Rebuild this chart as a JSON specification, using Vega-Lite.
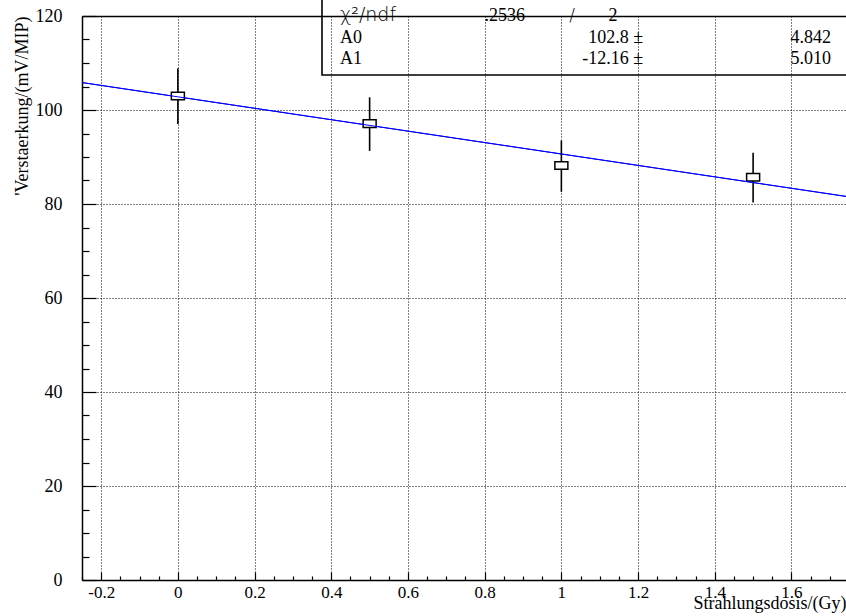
{
  "$schema": "https://vega.github.io/schema/vega-lite/v6.json",
  "autosize": {"type": "none"},
  "padding": {"left": 82, "top": 16, "right": 0, "bottom": 36},
  "width": 764,
  "height": 564,
  "background": "white",
  "view": {"stroke": null},
  "config": {
    "font": "Liberation Serif",
    "axis": {
      "labelFont": "Liberation Serif",
      "labelFontSize": 18,
      "labelColor": "black",
      "tickColor": "black",
      "domainColor": "black",
      "domainWidth": 1.5,
      "tickWidth": 1.2,
      "titleColor": "black",
      "titleFont": "Liberation Serif",
      "titleFontWeight": "normal",
      "gridColor": "black",
      "gridDash": [1, 2],
      "gridWidth": 1,
      "gridOpacity": 1
    },
    "text": {"font": "Liberation Serif"}
  },
  "datasets": {
    "points": [
      {"dose": 0.0, "gain": 103.0, "lo": 97.0, "hi": 108.9},
      {"dose": 0.5, "gain": 97.1, "lo": 91.3, "hi": 102.7},
      {"dose": 1.0, "gain": 88.2, "lo": 82.6, "hi": 93.5},
      {"dose": 1.5, "gain": 85.7, "lo": 80.3, "hi": 90.9}
    ],
    "fit": [
      {"x1": -0.25, "y1": 105.84, "x2": 1.75, "y2": 81.52}
    ],
    "stats": [
      {"row": "chi2", "label": "χ²/ndf", "value": ".2536", "sep": "/", "ndf": "2"},
      {"row": "A0", "label": "A0", "value": "102.8 ±", "error": "4.842"},
      {"row": "A1", "label": "A1", "value": "-12.16 ±", "error": "5.010"}
    ]
  },
  "layer": [
    {
      "data": {"name": "fit"},
      "mark": {"type": "rule", "color": "#0000ff", "strokeWidth": 1, "clip": true},
      "encoding": {
        "x": {
          "field": "x1", "type": "quantitative",
          "scale": {"domain": [-0.25, 1.7422], "nice": false, "zero": false},
          "axis": {
            "orient": "bottom",
            "values": [-0.2, 0, 0.2, 0.4, 0.6, 0.8, 1, 1.2, 1.4, 1.6],
            "labelExpr": "replace(format(datum.value, '~g'), '−', '-')",
            "labelFont": "Liberation Serif",
            "labelFontSize": 17,
            "tickSize": -8,
            "labelPadding": 12,
            "labelFlush": false,
            "labelOverlap": false,
            "grid": true,
            "title": "Strahlungsdosis/(Gy)",
            "titleAnchor": "end",
            "titleFont": "Liberation Serif",
            "titleFontSize": 18,
            "titlePadding": -6
          }
        },
        "x2": {"field": "x2"},
        "y": {
          "field": "y1", "type": "quantitative",
          "scale": {"domain": [0, 120], "nice": false, "zero": false},
          "axis": {
            "orient": "left",
            "values": [0, 20, 40, 60, 80, 100, 120],
            "labelFont": "Liberation Serif",
            "labelFontSize": 18,
            "tickSize": -14,
            "labelPadding": 34,
            "labelFlush": false,
            "labelOverlap": false,
            "grid": true,
            "title": "'Verstaerkung/(mV/MIP)",
            "titleAnchor": "end",
            "titleFont": "Liberation Serif",
            "titleFontSize": 18,
            "titlePadding": 4
          }
        },
        "y2": {"field": "y2"}
      }
    },
    {
      "data": {"name": "points"},
      "mark": {"type": "rule", "color": "black", "strokeWidth": 1.6},
      "encoding": {
        "x": {
          "field": "dose", "type": "quantitative",
          "axis": {
            "orient": "bottom",
            "values": [-0.25, -0.15, -0.1, -0.05, 0.05, 0.1, 0.15, 0.25, 0.3, 0.35, 0.45, 0.5, 0.55, 0.65, 0.7, 0.75, 0.85, 0.9, 0.95, 1.05, 1.1, 1.15, 1.25, 1.3, 1.35, 1.45, 1.5, 1.55, 1.65, 1.7],
            "tickSize": -4,
            "labels": false,
            "grid": false,
            "domain": false,
            "title": null
          }
        },
        "y": {
          "field": "lo", "type": "quantitative",
          "axis": {
            "orient": "left",
            "values": [5, 10, 15, 25, 30, 35, 45, 50, 55, 65, 70, 75, 85, 90, 95, 105, 110, 115],
            "tickSize": -7,
            "labels": false,
            "grid": false,
            "domain": false,
            "title": null
          }
        },
        "y2": {"field": "hi"}
      }
    },
    {
      "data": {"name": "points"},
      "mark": {
        "type": "point",
        "shape": "M-1,-0.58H1V0.58H-1Z",
        "size": 169,
        "filled": true,
        "fill": "white",
        "stroke": "black",
        "strokeWidth": 1.5,
        "opacity": 1
      },
      "encoding": {
        "x": {
          "field": "dose", "type": "quantitative",
          "axis": {
            "orient": "top",
            "ticks": false,
            "labels": false,
            "grid": false,
            "domain": true,
            "title": null
          }
        },
        "y": {"field": "gain", "type": "quantitative", "axis": null}
      }
    },
    {
      "data": {"name": "fit"},
      "mark": {"type": "rule", "color": "#0000ff", "strokeWidth": 1, "clip": true},
      "encoding": {
        "x": {"field": "x1", "type": "quantitative", "axis": null},
        "x2": {"field": "x2"},
        "y": {"field": "y1", "type": "quantitative", "axis": null},
        "y2": {"field": "y2"}
      }
    },
    {
      "data": {"values": [{"box": "stats"}]},
      "mark": {"type": "rect", "fill": null, "filled": false, "stroke": "black", "strokeWidth": 1.6},
      "encoding": {
        "x": {"datum": 0.3758, "type": "quantitative", "axis": null},
        "x2": {"datum": 1.8},
        "y": {"datum": 107.45, "type": "quantitative", "axis": null},
        "y2": {"datum": 125}
      }
    },
    {
      "data": {"name": "stats"},
      "transform": [{"filter": "datum.row == 'chi2'"}],
      "mark": {"type": "text", "align": "left", "baseline": "alphabetic", "font": "DejaVu Sans", "fontWeight": 300, "fontSize": 19, "color": "black"},
      "encoding": {
        "x": {"datum": 0.4228, "type": "quantitative", "axis": null},
        "y": {"datum": 118.9, "type": "quantitative", "axis": null},
        "text": {"field": "label"}
      }
    },
    {
      "data": {"name": "stats"},
      "transform": [{"filter": "datum.row == 'chi2'"}],
      "mark": {"type": "text", "align": "left", "baseline": "alphabetic", "font": "Liberation Serif", "fontSize": 18, "color": "black"},
      "encoding": {
        "x": {"datum": 0.7993, "type": "quantitative", "axis": null},
        "y": {"datum": 118.9, "type": "quantitative", "axis": null},
        "text": {"field": "value"}
      }
    },
    {
      "data": {"name": "stats"},
      "transform": [{"filter": "datum.row == 'chi2'"}],
      "mark": {"type": "text", "align": "center", "baseline": "alphabetic", "font": "DejaVu Sans", "fontWeight": 300, "fontSize": 17, "color": "black"},
      "encoding": {
        "x": {"datum": 1.0277, "type": "quantitative", "axis": null},
        "y": {"datum": 118.9, "type": "quantitative", "axis": null},
        "text": {"field": "sep"}
      }
    },
    {
      "data": {"name": "stats"},
      "transform": [{"filter": "datum.row == 'chi2'"}],
      "mark": {"type": "text", "align": "center", "baseline": "alphabetic", "font": "Liberation Serif", "fontSize": 18, "color": "black"},
      "encoding": {
        "x": {"datum": 1.1346, "type": "quantitative", "axis": null},
        "y": {"datum": 118.9, "type": "quantitative", "axis": null},
        "text": {"field": "ndf"}
      }
    },
    {
      "data": {"name": "stats"},
      "transform": [{"filter": "datum.row == 'A0'"}],
      "mark": {"type": "text", "align": "left", "baseline": "alphabetic", "font": "Liberation Serif", "fontSize": 18, "color": "black"},
      "encoding": {
        "x": {"datum": 0.4228, "type": "quantitative", "axis": null},
        "y": {"datum": 114.2, "type": "quantitative", "axis": null},
        "text": {"field": "label"}
      }
    },
    {
      "data": {"name": "stats"},
      "transform": [{"filter": "datum.row == 'A0'"}],
      "mark": {"type": "text", "align": "right", "baseline": "alphabetic", "font": "Liberation Serif", "fontSize": 18, "color": "black"},
      "encoding": {
        "x": {"datum": 1.2129, "type": "quantitative", "axis": null},
        "y": {"datum": 114.2, "type": "quantitative", "axis": null},
        "text": {"field": "value"}
      }
    },
    {
      "data": {"name": "stats"},
      "transform": [{"filter": "datum.row == 'A0'"}],
      "mark": {"type": "text", "align": "right", "baseline": "alphabetic", "font": "Liberation Serif", "fontSize": 18, "color": "black"},
      "encoding": {
        "x": {"datum": 1.7031, "type": "quantitative", "axis": null},
        "y": {"datum": 114.2, "type": "quantitative", "axis": null},
        "text": {"field": "error"}
      }
    },
    {
      "data": {"name": "stats"},
      "transform": [{"filter": "datum.row == 'A1'"}],
      "mark": {"type": "text", "align": "left", "baseline": "alphabetic", "font": "Liberation Serif", "fontSize": 18, "color": "black"},
      "encoding": {
        "x": {"datum": 0.4228, "type": "quantitative", "axis": null},
        "y": {"datum": 109.7, "type": "quantitative", "axis": null},
        "text": {"field": "label"}
      }
    },
    {
      "data": {"name": "stats"},
      "transform": [{"filter": "datum.row == 'A1'"}],
      "mark": {"type": "text", "align": "right", "baseline": "alphabetic", "font": "Liberation Serif", "fontSize": 18, "color": "black"},
      "encoding": {
        "x": {"datum": 1.2129, "type": "quantitative", "axis": null},
        "y": {"datum": 109.7, "type": "quantitative", "axis": null},
        "text": {"field": "value"}
      }
    },
    {
      "data": {"name": "stats"},
      "transform": [{"filter": "datum.row == 'A1'"}],
      "mark": {"type": "text", "align": "right", "baseline": "alphabetic", "font": "Liberation Serif", "fontSize": 18, "color": "black"},
      "encoding": {
        "x": {"datum": 1.7031, "type": "quantitative", "axis": null},
        "y": {"datum": 109.7, "type": "quantitative", "axis": null},
        "text": {"field": "error"}
      }
    }
  ],
  "resolve": {"axis": {"x": "independent", "y": "independent"}}
}
